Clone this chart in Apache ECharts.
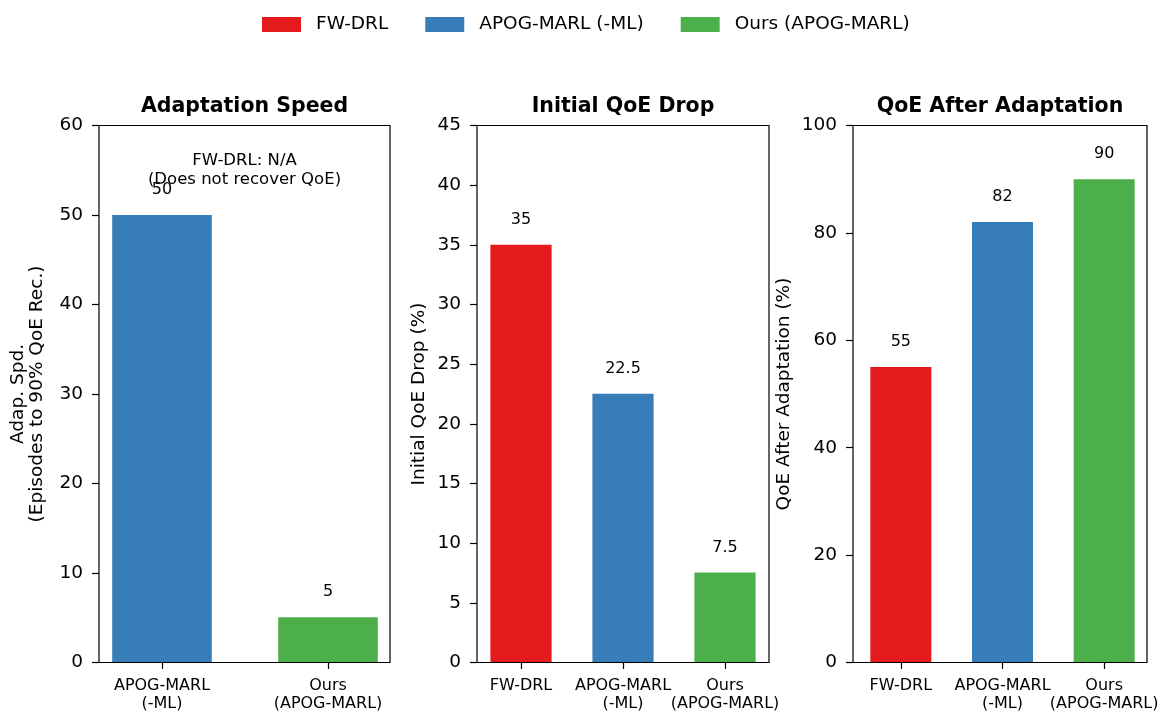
<!DOCTYPE html>
<html>
<head>
<meta charset="utf-8">
<script src="https://cdn.jsdelivr.net/npm/echarts@6/dist/echarts.min.js"></script>
<style>html,body{margin:0;padding:0;background:#fff}#chart{width:1163px;height:713px}</style>
</head>
<body>
<div id="chart"></div>
<script>
// ---- data ----
const methods = ['FW-DRL', 'APOG-MARL (-ML)', 'Ours (APOG-MARL)'];
const methodColors = ['#e41a1c', '#377eb8', '#4daf4a'];
const catsSpeed = ['APOG-MARL\n(-ML)', 'Ours\n(APOG-MARL)'];
const speedMethods = [1, 2];              // indices into methods
const adaptSpeed = [50, 5];               // episodes
const catsQoE = ['FW-DRL', 'APOG-MARL\n(-ML)', 'Ours\n(APOG-MARL)'];
const qoeDrop = [35, 22.5, 7.5];          // %
const qoeAfter = [55, 82, 90];            // %
const titles = ['Adaptation Speed', 'Initial QoE Drop', 'QoE After Adaptation'];
const yNames = ['Adap. Spd.\n(Episodes to 90% QoE Rec.)', 'Initial QoE Drop (%)', 'QoE After Adaptation (%)'];
const yScales = [[0, 60, 10], [0, 45, 5], [0, 100, 20]];
const note = 'FW-DRL: N/A\n(Does not recover QoE)';

const FONT = 'DejaVu Sans';
const frames = [
  {left: 99, width: 291}, {left: 477, width: 292}, {left: 853, width: 294}
];
const inners = [
  {left: 79, width: 332}, {left: 470, width: 306}, {left: 850, width: 305}
];
const TOP = 125.5, H = 537;
const nameGaps = [52, 48, 59];

const grid = [], xAxis = [], yAxis = [], series = [];
for (let p = 0; p < 3; p++) {
  grid.push({left: frames[p].left, width: frames[p].width, top: TOP, height: H,
    show: true, borderColor: '#000', borderWidth: 1.2, backgroundColor: 'transparent', containLabel: false});
  grid.push({left: inners[p].left, width: inners[p].width, top: TOP, height: H, containLabel: false});
  xAxis.push({type: 'value', gridIndex: 2*p, show: false, min: 0, max: 1});
  yAxis.push({type: 'value', gridIndex: 2*p, min: yScales[p][0], max: yScales[p][1], interval: yScales[p][2],
    name: yNames[p], nameLocation: 'middle', nameRotate: 90, nameGap: nameGaps[p],
    nameTextStyle: {fontFamily: FONT, fontSize: 18.5, color: '#000', lineHeight: 19},
    axisLine: {show: false},
    axisTick: {show: true, length: 7, lineStyle: {color: '#000', width: 1.2}},
    axisLabel: {fontFamily: FONT, fontSize: 18.5, color: '#000', margin: 16},
    splitLine: {show: false}});
  const cats = p === 0 ? catsSpeed : catsQoE;
  xAxis.push({type: 'category', gridIndex: 2*p+1, data: cats,
    axisLine: {show: false},
    axisTick: {show: true, alignWithLabel: true, length: 7, lineStyle: {color: '#000', width: 1.2}},
    axisLabel: {fontFamily: FONT, fontSize: 16, color: '#000', margin: 15, lineHeight: 18, interval: 0}});
  yAxis.push({type: 'value', gridIndex: 2*p+1, min: yScales[p][0], max: yScales[p][1], interval: yScales[p][2], show: false});
}

function addSeries(p, methodIdxs, values) {
  methodIdxs.forEach((m, j) => {
    const data = values.map((v, k) => k === j ? v : '-');
    series.push({type: 'bar', name: methods[m], xAxisIndex: 2*p+1, yAxisIndex: 2*p+1,
      data: data, barWidth: '60%', barGap: '-100%',
      itemStyle: {color: methodColors[m]},
      label: {show: true, position: 'top', distance: 17, fontFamily: FONT, fontSize: 16, color: '#000', formatter: '{c}'},
      emphasis: {disabled: true}, animation: false});
  });
}
addSeries(0, speedMethods, adaptSpeed);
addSeries(1, [0, 1, 2], qoeDrop);
addSeries(2, [0, 1, 2], qoeAfter);

const centers = frames.map(f => f.left + f.width / 2);
const graphic = titles.map((t, i) => ({type: 'text', x: centers[i], y: 107,
  style: {text: t, fontFamily: FONT, fontWeight: 'bold', fontSize: 20.5, fill: '#000', textAlign: 'center', textVerticalAlign: 'middle'}}));
graphic.push({type: 'text', x: centers[0], y: 170,
  style: {text: note, fontFamily: FONT, fontSize: 16.5, lineHeight: 19, fill: '#000', textAlign: 'center', textVerticalAlign: 'middle'}});

const chart = echarts.init(document.getElementById('chart'), null, {renderer: 'canvas'});
chart.setOption({
  animation: false,
  backgroundColor: '#fff',
  legend: {data: methods, left: 257, top: 10, icon: 'rect', itemWidth: 39, itemHeight: 15, itemGap: 37,
    textStyle: {fontFamily: FONT, fontSize: 18.5, color: '#000', padding: [0, 0, 0, 10]}, selectedMode: false},
  grid, xAxis, yAxis, series, graphic
});
</script>
</body>
</html>
